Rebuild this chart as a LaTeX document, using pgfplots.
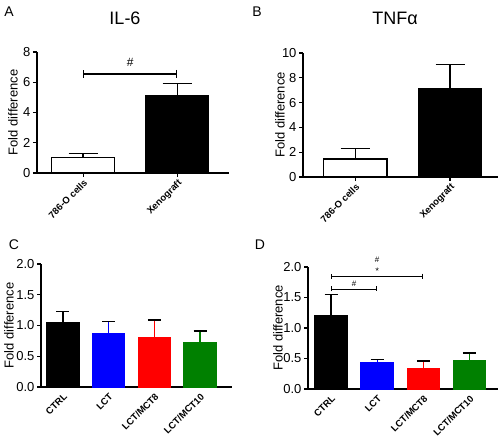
\documentclass[border=0pt]{standalone}
\usepackage{fontspec}
\setmainfont{Liberation Sans}
\usepackage{pgfplots}
\pgfplotsset{compat=1.18}
\usetikzlibrary{arrows.meta}
\definecolor{gblue}{RGB}{0,0,255}
\definecolor{gred}{RGB}{255,0,0}
\definecolor{ggreen}{RGB}{0,128,0}
\pgfplotsset{
  gp/.style={
    scale only axis,
    axis x line=bottom, axis y line=left,
    axis line style={line width=1.2pt,-},
    every tick/.style={line width=1.2pt,black},
    major tick length=4pt,
    tick align=outside,
    clip=false,
    /pgf/number format/assume math mode=true,
    yticklabel style={font=\fontsize{13}{15}\selectfont, xshift=1pt},
    xticklabel style={font=\bfseries\fontsize{9.5}{11}\selectfont, rotate=45, anchor=north east, inner sep=1pt},
    ylabel={Fold difference},
    ylabel style={font=\fontsize{13}{15}\selectfont, rotate=0, anchor=center},
  },
  gbar/.style={ybar, bar shift=0pt, line width=1.2pt,
    error bars/y dir=plus, error bars/y explicit,
    error bars/error mark=|,
    error bars/error bar style={line width=1.3pt},
    error bars/error mark options={line width=1.3pt, mark size=#1}},
}
\begin{document}
\begin{tikzpicture}[x=1pt,y=1pt]
\path[use as bounding box] (0,0) rectangle (500,443);

% Panel A
\node[font=\fontsize{14}{16}\selectfont] at (9,431) {A};
\node[font=\fontsize{18}{20}\selectfont] at (125,425) {IL-6};
\begin{axis}[gp, at={(37pt,270pt)}, anchor=south west, width=192pt, height=121pt,
  xmin=-0.49, xmax=1.55, ymin=0, ymax=8, ytick={0,2,4,6,8},
  xtick={0,1}, xticklabels={786-O cells, Xenograft},
  ylabel style={at={(axis description cs:-0.125,0.5)}}]
\addplot[gbar=14.5pt, bar width=0.67, fill=white, draw=black] coordinates {(0,1.05) +- (0,0.25)};
\addplot[gbar=14.5pt, bar width=0.67, fill=black, draw=black] coordinates {(1,5.1) +- (0,0.82)};
\draw[line width=1.2pt, {Bar[width=8pt]}-{Bar[width=8pt]}] (axis cs:0,6.55) -- (axis cs:1,6.55);
\node[font=\fontsize{12}{14}\selectfont] at (axis cs:0.5,7.3) {\#};
\end{axis}

% Panel B
\node[font=\fontsize{14}{16}\selectfont] at (257,431) {B};
\node[font=\fontsize{18}{20}\selectfont] at (395,425) {TNFα};
\begin{axis}[gp, at={(303pt,266pt)}, anchor=south west, width=195pt, height=124pt,
  xmin=-0.55, xmax=1.505, ymin=0, ymax=10, ytick={0,2,4,6,8,10},
  xtick={0,1}, xticklabels={786-O cells, Xenograft},
  ylabel style={at={(axis description cs:-0.118,0.5)}}]
\addplot[gbar=14.5pt, bar width=0.67, fill=white, draw=black] coordinates {(0,1.45) +- (0,0.85)};
\addplot[gbar=14.5pt, bar width=0.67, fill=black, draw=black] coordinates {(1,7.1) +- (0,2.0)};
\end{axis}

% Panel C
\node[font=\fontsize{14}{16}\selectfont] at (14,198) {C};
\begin{axis}[gp, at={(41pt,56pt)}, anchor=south west, width=191pt, height=123pt,
  xmin=-0.48, xmax=3.7, ymin=0, ymax=2, ytick={0,0.5,1,1.5,2},
  yticklabel style={/pgf/number format/.cd, fixed, fixed zerofill, precision=1},
  xtick={0,1,2,3}, xticklabels={CTRL, LCT, LCT/MCT8, LCT/MCT10},
  major x tick style={draw=none},
  ylabel style={at={(axis description cs:-0.168,0.5)}}]
\addplot[gbar=6.5pt, bar width=0.7, fill=black, draw=black] coordinates {(0,1.05) +- (0,0.18)};
\addplot[gbar=6.5pt, bar width=0.7, fill=gblue, draw=gblue] coordinates {(1,0.87) +- (0,0.19)};
\addplot[gbar=6.5pt, bar width=0.7, fill=gred, draw=gred] coordinates {(2,0.80) +- (0,0.29)};
\addplot[gbar=6.5pt, bar width=0.7, fill=ggreen, draw=ggreen] coordinates {(3,0.73) +- (0,0.18)};
\end{axis}

% Panel D
\node[font=\fontsize{14}{16}\selectfont] at (260,198) {D};
\begin{axis}[gp, at={(308pt,54pt)}, anchor=south west, width=190pt, height=122pt,
  xmin=-0.5, xmax=3.62, ymin=0, ymax=2, ytick={0,0.5,1,1.5,2},
  yticklabel style={/pgf/number format/.cd, fixed, fixed zerofill, precision=1},
  xtick={0,1,2,3}, xticklabels={CTRL, LCT, LCT/MCT8, LCT/MCT10},
  major x tick style={draw=none},
  ylabel style={at={(axis description cs:-0.158,0.5)}}]
\addplot[gbar=6.5pt, bar width=0.7, fill=black, draw=black] coordinates {(0,1.21) +- (0,0.34)};
\addplot[gbar=6.5pt, bar width=0.7, fill=gblue, draw=gblue] coordinates {(1,0.43) +- (0,0.05)};
\addplot[gbar=6.5pt, bar width=0.7, fill=gred, draw=gred] coordinates {(2,0.34) +- (0,0.12)};
\addplot[gbar=6.5pt, bar width=0.7, fill=ggreen, draw=ggreen] coordinates {(3,0.46) +- (0,0.13)};
\draw[line width=0.9pt, {Bar[width=5pt]}-{Bar[width=5pt]}] (axis cs:0,1.64) -- (axis cs:1,1.64);
\node[font=\fontsize{8}{9}\selectfont] at (axis cs:0.5,1.73) {\#};
\draw[line width=0.9pt, {Bar[width=5pt]}-{Bar[width=5pt]}] (axis cs:0,1.85) -- (axis cs:2,1.85);
\node[font=\fontsize{8}{9}\selectfont] at (axis cs:1,1.96) {$\star$};
\node[font=\fontsize{8}{9}\selectfont] at (axis cs:1,2.12) {\#};
\end{axis}
\end{tikzpicture}
\end{document}
